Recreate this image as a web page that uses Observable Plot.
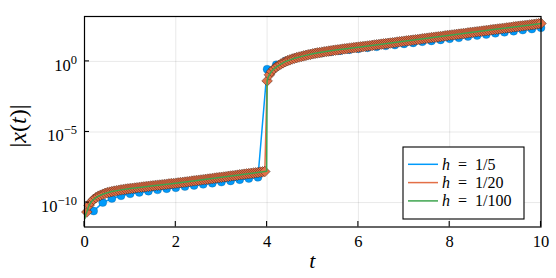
<!DOCTYPE html>
<html>
<head>
<meta charset="utf-8">
<script src="https://cdn.jsdelivr.net/npm/d3@7"></script>
<script src="https://cdn.jsdelivr.net/npm/@observablehq/plot@0.6"></script>
<style>
  html, body { margin: 0; padding: 0; background: #fff; }
  svg, svg text { font-family: "Liberation Serif", serif !important; }
</style>
</head>
<body>
<div id="chart"></div>
<script>
// ---- data (log10 |x(t)|) ----
const seriesLabels = ["1/5", "1/20", "1/100"];
const seriesColors = ["#009AFA", "#E36F47", "#3EA44E"];
const hBlue = 0.2, hOrange = 0.05;

// h = 1/5, t = 0.2, 0.4, ..., 10
const logBlue = [
  -10.60,-10.00,-9.71,-9.52,-9.38,-9.28,-9.19,-9.10,-9.02,-8.95,
  -8.87,-8.79,-8.71,-8.63,-8.55,-8.47,-8.38,-8.30,-8.21,
  -0.55,-0.24,0.03,0.24,0.40,
  0.52,0.61,0.69,0.76,0.83,
  0.89,0.96,1.03,1.10,1.16,
  1.24,1.31,1.39,1.45,1.52,
  1.60,1.67,1.76,1.83,1.90,
  1.99,2.06,2.14,2.22,2.29,
  2.38
];

// h = 1/20, t = 0.05, 0.10, ..., 10
const logOrange = [
  -10.67,-10.19,-9.94,-9.77,-9.65,-9.55,-9.48,-9.41,-9.35,-9.30,
  -9.26,-9.22,-9.19,-9.16,-9.13,-9.10,-9.08,-9.05,-9.03,-9.01,
  -8.99,-8.97,-8.95,-8.93,-8.91,-8.89,-8.87,-8.85,-8.83,-8.81,
  -8.79,-8.77,-8.76,-8.74,-8.72,-8.70,-8.68,-8.66,-8.65,-8.63,
  -8.61,-8.59,-8.57,-8.55,-8.53,-8.51,-8.48,-8.46,-8.44,-8.42,
  -8.40,-8.38,-8.36,-8.34,-8.32,-8.30,-8.27,-8.25,-8.23,-8.21,
  -8.19,-8.17,-8.14,-8.12,-8.10,-8.08,-8.06,-8.03,-8.01,-7.99,
  -7.97,-7.95,-7.93,-7.91,-7.89,-7.87,-7.84,-7.82,-7.80,
  -1.38,-0.95,-0.70,-0.53,-0.40,-0.29,-0.19,-0.10,-0.02,0.05,
  0.11,0.17,0.22,0.27,0.31,0.35,0.39,0.43,0.47,0.50,
  0.54,0.57,0.60,0.62,0.65,0.68,0.70,0.73,0.75,0.78,
  0.80,0.82,0.84,0.87,0.89,0.91,0.93,0.95,0.97,0.99,
  1.01,1.03,1.05,1.07,1.09,1.11,1.13,1.16,1.18,1.20,
  1.22,1.24,1.26,1.28,1.30,1.32,1.34,1.37,1.39,1.41,
  1.43,1.45,1.47,1.49,1.51,1.53,1.55,1.57,1.60,1.62,
  1.64,1.66,1.68,1.70,1.72,1.74,1.76,1.78,1.81,1.83,
  1.85,1.87,1.89,1.91,1.93,1.95,1.97,1.99,2.02,2.04,
  2.06,2.08,2.10,2.12,2.14,2.16,2.18,2.20,2.23,2.25,
  2.27,2.29,2.31,2.33,2.35,2.37,2.39,2.41,2.44,2.46,
  2.48,2.50,2.52,2.54,2.56,2.58,2.60,2.62,2.65,2.67,
  2.69
];

// h = 1/100 (line only), sampled where read
const tGreen = [0.01,0.02,0.03,0.05,0.07,0.10,0.15,0.20,0.30,0.40,0.50,0.60,0.80,1.00,1.25,1.50,2.00,2.50,3.00,3.50,3.99,
  4.00,4.01,4.02,4.03,4.05,4.07,4.10,4.15,4.20,4.30,4.40,4.50,4.60,4.80,5.00,5.25,5.50,6.00,6.50,7.00,7.50,8.00,8.50,9.00,9.50,10.00];
const logGreen = [-11.12,-10.95,-10.83,-10.67,-10.45,-10.19,-9.94,-9.77,-9.55,-9.41,-9.30,-9.22,-9.10,-9.01,-8.91,-8.81,-8.63,-8.42,-8.21,-7.99,-7.78,
  -1.40,-1.25,-1.15,-1.07,-0.95,-0.84,-0.70,-0.53,-0.40,-0.19,-0.02,0.11,0.22,0.39,0.54,0.68,0.80,1.01,1.22,1.43,1.64,1.85,2.06,2.27,2.48,2.69];

const xTicks = [0, 2, 4, 6, 8, 10];
const yTicks = [1e-10, 1e-5, 1e0];
const yTickExp = ["\u221210", "\u22125", "0"];

// ---- tables ----
const blue = logBlue.map((v, i) => ({t: +((i + 1) * hBlue).toFixed(2), v: 10 ** v}));
const orange = logOrange.map((v, i) => ({t: +((i + 1) * hOrange).toFixed(2), v: 10 ** v}));
const green = logGreen.map((v, i) => ({t: tGreen[i], v: 10 ** v}));

const FONT = "'Liberation Serif', serif";

const chart = Plot.plot({
  width: 556,
  height: 278,
  marginTop: 16,
  marginBottom: 51.5,
  marginLeft: 84,
  marginRight: 15.5,
  style: {fontFamily: FONT, fontSize: "16.5px", background: "#fff", color: "#000"},
  x: {domain: [0, 10], ticks: xTicks, tickSize: 0, tickPadding: 8, tickFormat: d => String(d), label: null},
  y: {type: "log", domain: [10 ** -11.73, 10 ** 3.18], axis: null},
  marks: [
    Plot.gridX(xTicks, {stroke: "#000", strokeOpacity: 0.09, strokeWidth: 1}),
    Plot.gridY(yTicks, {stroke: "#000", strokeOpacity: 0.09, strokeWidth: 1}),
    Plot.line(blue, {x: "t", y: "v", stroke: seriesColors[0], strokeWidth: 1.5}),
    Plot.dot(blue, {x: "t", y: "v", r: 4, fill: seriesColors[0], stroke: "#003a66", strokeOpacity: 0.5, strokeWidth: 0.5}),
    Plot.line(orange, {x: "t", y: "v", stroke: seriesColors[1], strokeWidth: 1.5}),
    Plot.dot(orange, {x: "t", y: "v", symbol: "diamond2", r: 4.8, fill: seriesColors[1], stroke: "#2a1208", strokeOpacity: 0.8, strokeWidth: 0.55}),
    Plot.line(green, {x: "t", y: "v", stroke: seriesColors[2], strokeWidth: 1.5}),
    Plot.frame({stroke: "#000", strokeWidth: 1.2})
  ]
});

document.getElementById("chart").appendChild(chart);

// ---- inward ticks, superscript labels, axis titles, legend ----
const svg = d3.select(chart);
svg.selectAll("text").style("font-family", FONT).style("font-size", "16.5px");
const xs = chart.scale("x"), ys = chart.scale("y");
const yBottom = ys.range[0], xLeft = xs.range[0];
const tg = svg.append("g").attr("stroke", "#000").attr("stroke-width", 1.1);
xTicks.forEach(v => {
  const x = xs.apply(v);
  tg.append("line").attr("x1", x).attr("x2", x).attr("y1", yBottom).attr("y2", yBottom - 5.5);
});
yTicks.forEach(v => {
  const y = ys.apply(v);
  tg.append("line").attr("x1", xLeft).attr("x2", xLeft + 5).attr("y1", y).attr("y2", y);
});

function txt(sel, size) {
  return sel.append("text").style("font-family", FONT).style("font-size", size + "px").attr("fill", "#000");
}

yTicks.forEach((v, i) => {
  const y = ys.apply(v);
  const t = txt(svg, 16.5).attr("x", xLeft - 7).attr("y", y + 10).attr("text-anchor", "end");
  t.append("tspan").text("10");
  t.append("tspan").attr("dy", -7).style("font-size", "12.5px").text(yTickExp[i]);
});

// y label |x(t)|
const yl = txt(svg, 24).attr("transform", "translate(25.5,126) rotate(-90)").attr("text-anchor", "middle");
yl.append("tspan").text("|");
yl.append("tspan").attr("font-style", "italic").text("x");
yl.append("tspan").text("(");
yl.append("tspan").attr("font-style", "italic").text("t");
yl.append("tspan").text(")|");

// x label t
txt(svg, 22).attr("x", (xs.range[0] + xs.range[1]) / 2).attr("y", 268)
  .attr("text-anchor", "middle").attr("font-style", "italic").text("t");

// legend
const lg = svg.append("g");
lg.append("rect").attr("x", 403).attr("y", 147).attr("width", 121).attr("height", 72)
  .attr("fill", "#fff").attr("stroke", "#000").attr("stroke-width", 1.1);
seriesLabels.forEach((lab, i) => {
  const y = 164.3 + i * 18.3;
  lg.append("line").attr("x1", 408).attr("x2", 438).attr("y1", y).attr("y2", y)
    .attr("stroke", seriesColors[i]).attr("stroke-width", 1.5);
  const t = txt(lg, 16).attr("x", 442).attr("y", y + 5.2).attr("text-anchor", "start");
  t.append("tspan").attr("font-style", "italic").text("h");
  t.append("tspan").text("\u2002=\u2002" + lab);
});
</script>
</body>
</html>
